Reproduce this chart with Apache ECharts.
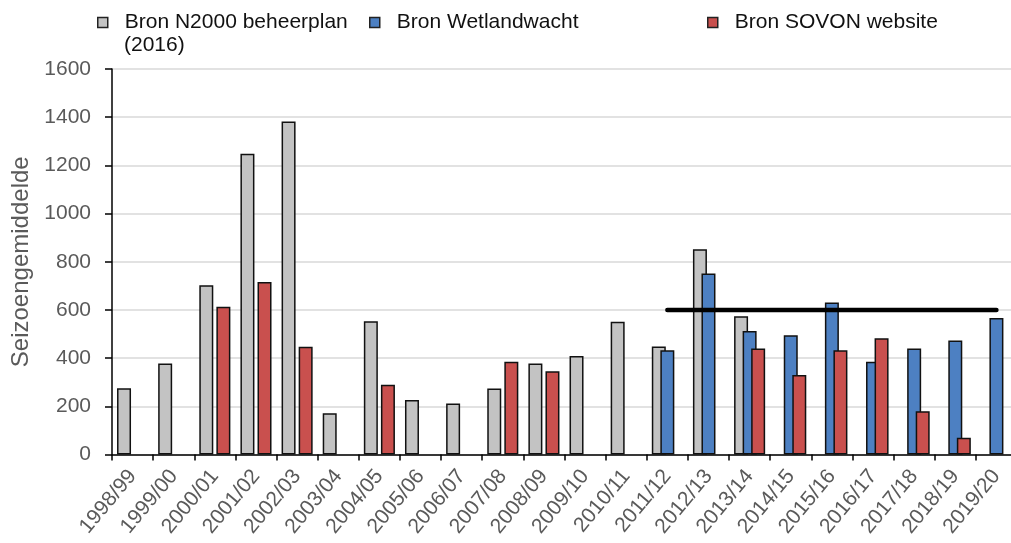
<!DOCTYPE html>
<html>
<head>
<meta charset="utf-8">
<script src="https://cdn.jsdelivr.net/npm/echarts@6/dist/echarts.min.js"></script>
<style>
html,body{margin:0;padding:0;background:#fff;overflow:hidden;}
#chart{width:1011px;height:543px;}
</style>
</head>
<body>
<div id="chart"></div>
<script>
const categories = ['1998/99','1999/00','2000/01','2001/02','2002/03','2003/04','2004/05','2005/06','2006/07','2007/08','2008/09','2009/10','2010/11','2011/12','2012/13','2013/14','2014/15','2015/16','2016/17','2017/18','2018/19','2019/20'];
const n2000 = [275, 378, 702, 1248, 1382, 171, 553, 226, 212, 274, 378, 409, 551, 448, 852, 574, null, null, null, null, null, null];
const wetlandwacht = [null, null, null, null, null, null, null, null, null, null, null, null, null, 433, 751, 513, 495, 631, 385, 440, 473, 567];
const sovon = [null, null, 613, 716, 447, null, 290, null, null, 385, 346, null, null, null, null, 440, 330, 433, 482, 180, 70, null];
const target = [null, null, null, null, null, null, null, null, null, null, null, null, null, 600, 600, 600, 600, 600, 600, 600, 600, 600];
const yTicks = {min: 0, max: 1600, interval: 200};
const names = ['Bron N2000 beheerplan (2016)', 'Bron Wetlandwacht', 'Bron SOVON website'];
const legendLine1 = 'Bron N2000 beheerplan';
const legendLine2 = '(2016)';

const chart = echarts.init(document.getElementById('chart'), null, {renderer: 'canvas'});
const FONT = '"Liberation Sans", Arial, sans-serif';
const legendBase = {
  orient: 'horizontal',
  top: 7,
  icon: 'rect',
  itemWidth: 10,
  itemHeight: 10,
  itemStyle: {borderColor: '#222', borderWidth: 1.5},
  textStyle: {fontFamily: FONT, fontSize: 21, color: '#111', padding: [0, 0, 0, 12]}
};
const barBase = {
  type: 'bar',
  barWidth: 14,
  barGap: '-39%',
  itemStyle: {borderColor: '#111', borderWidth: 1.5}
};
chart.setOption({
  animation: false,
  backgroundColor: '#fff',
  legend: [
    Object.assign({}, legendBase, {left: 92, data: [names[0]], formatter: function () { return legendLine1; }}),
    Object.assign({}, legendBase, {left: 364, data: [names[1]]}),
    Object.assign({}, legendBase, {left: 702, data: [names[2]]})
  ],
  graphic: [{
    type: 'text', left: 124, top: 35,
    style: {text: legendLine2, fontFamily: FONT, fontSize: 21, fill: '#111'}
  }],
  grid: {left: 112, right: -6, top: 69, bottom: 88.5, containLabel: false, outerBoundsMode: 'none'},
  xAxis: {
    type: 'category',
    data: categories,
    boundaryGap: true,
    axisLine: {show: true, lineStyle: {color: '#000', width: 1.5}},
    axisTick: {show: true, length: 6, lineStyle: {color: '#000', width: 1.5}},
    axisLabel: {rotate: 50, margin: 18, fontFamily: FONT, fontSize: 21, color: '#5a5a5a', interval: 0},
    splitLine: {show: false}
  },
  yAxis: {
    type: 'value',
    min: yTicks.min, max: yTicks.max, interval: yTicks.interval,
    name: 'Seizoengemiddelde',
    nameLocation: 'middle',
    nameGap: 79,
    nameRotate: 90,
    nameTextStyle: {fontFamily: FONT, fontSize: 24, color: '#5a5a5a'},
    axisLine: {show: true, lineStyle: {color: '#000', width: 1.5}},
    axisTick: {show: true, length: 7, lineStyle: {color: '#000', width: 1.5}},
    axisLabel: {margin: 21, fontFamily: FONT, fontSize: 21, color: '#5a5a5a', formatter: function (v) { return String(v); }},
    splitLine: {show: true, lineStyle: {color: '#d9d9d9', width: 1.5}}
  },
  series: [
    Object.assign({}, barBase, {name: names[0], data: n2000, itemStyle: Object.assign({}, barBase.itemStyle, {color: '#c3c3c3'})}),
    Object.assign({}, barBase, {name: names[1], data: wetlandwacht, itemStyle: Object.assign({}, barBase.itemStyle, {color: '#4d80c2'})}),
    Object.assign({}, barBase, {name: names[2], data: sovon, itemStyle: Object.assign({}, barBase.itemStyle, {color: '#c9504e'})}),
    {type: 'line', name: 'target', data: target, symbol: 'none', z: 5, silent: true,
     lineStyle: {color: '#000', width: 4.5, cap: 'round'}}
  ]
});
</script>
</body>
</html>
